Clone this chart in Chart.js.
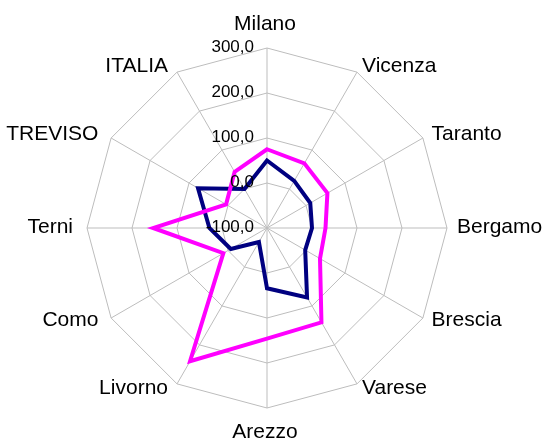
<!DOCTYPE html>
<html>
<head>
<meta charset="utf-8">
<title>Radar città</title>
<script src="https://cdn.jsdelivr.net/npm/chart.js@4.4.0/dist/chart.umd.min.js"></script>
<style>
	html, body { margin: 0; padding: 0; background: #fff; }
	canvas { display: block; }
</style>
</head>
<body>
<canvas id="mycanvas" width="545" height="441"></canvas>
<script>
var city_names = ['Milano', 'Vicenza', 'Taranto', 'Bergamo', 'Brescia', 'Varese', 'Arezzo', 'Livorno', 'Como', 'Terni', 'TREVISO', 'ITALIA'];
var serie_blu = [50, 21, 11, 0, -2, 78, 34, -64, -7, 28, 77, 0];
var serie_fucsia = [75, 66, 55, 30, 36, 142, 146, 242, 12, 153, 5, 44];
var tick_labels = ['-100,0', '0,0', '100,0', '200,0', '300,0'];

// scritte attorno alla rete: valori sull'asse verticale e nomi delle città
var labels_plugin = {
	id: 'labels_plugin',
	afterDatasetsDraw: function(chart) {
		var scale = chart.scales.r;
		var ctx = chart.ctx;
		var R = scale.drawingArea;
		ctx.save();
		ctx.fillStyle = '#000';
		ctx.textBaseline = 'middle';

		ctx.font = '17px "Liberation Sans", Arial, sans-serif';
		ctx.textAlign = 'right';
		scale.ticks.forEach(function(t) {
			var y = scale.yCenter - scale.getDistanceFromCenterForValue(t.value);
			ctx.fillText(t.label, scale.xCenter - 13, y - 1);
		});

		ctx.font = '21px "Liberation Sans", Arial, sans-serif';
		for (var i = 0; i < city_names.length; i++) {
			var a = scale.getIndexAngle(i); // 0 in alto, senso orario
			var s = Math.sin(a), c = Math.cos(a);
			var x, y;
			if (Math.abs(s) < 0.01) {
				ctx.textAlign = 'center';
				x = scale.xCenter - 2;
				y = scale.yCenter - c * (R + 24);
			} else {
				ctx.textAlign = s > 0 ? 'left' : 'right';
				x = scale.xCenter + s * (R + 10) + (s > 0 ? 0 : -4);
				y = scale.yCenter - c * (R + 6) - 1;
			}
			ctx.fillText(city_names[i], x, y);
		}
		ctx.restore();
	}
};

var chartdata = {
	labels: city_names,
	datasets: [
		{
			label: 'Serie 1',
			data: serie_blu,
			borderColor: '#000080',
			backgroundColor: 'transparent',
			borderWidth: 4,
			fill: false,
			pointRadius: 0,
			order: 1
		},
		{
			label: 'Serie 2',
			data: serie_fucsia,
			borderColor: '#FF00FF',
			backgroundColor: 'transparent',
			borderWidth: 4,
			fill: false,
			pointRadius: 0,
			order: 0
		}
	]
};

var ctx = document.getElementById('mycanvas');

var radarGraph = new Chart(ctx, {
	type: 'radar',
	data: chartdata,
	plugins: [labels_plugin],
	options: {
		responsive: false,
		animation: false,
		layout: { padding: { left: 87, right: 98, top: 48, bottom: 33 } },
		elements: { line: { tension: 0, borderJoinStyle: 'miter' } },
		plugins: {
			legend: { display: false },
			tooltip: { enabled: false }
		},
		scales: {
			r: {
				min: -100,
				max: 300,
				ticks: {
					stepSize: 100,
					display: false,
					callback: function(value, index) { return tick_labels[index]; }
				},
				grid: { color: '#bdbdbd', lineWidth: 1 },
				angleLines: { color: '#bdbdbd', lineWidth: 1 },
				pointLabels: { display: false }
			}
		}
	}
});
</script>
</body>
</html>
